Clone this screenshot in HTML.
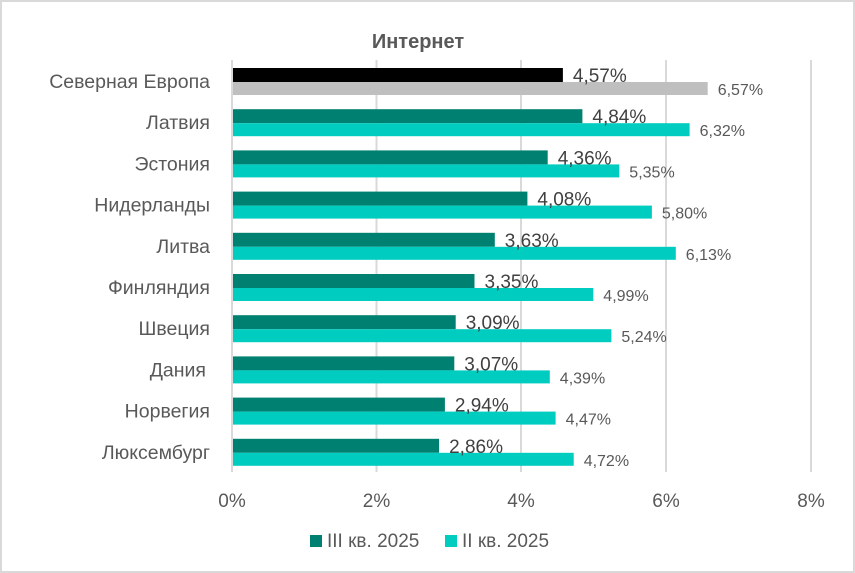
<!DOCTYPE html>
<html><head><meta charset="utf-8"><style>
html,body{margin:0;padding:0;background:#fff}
svg{display:block}
text{font-family:"Liberation Sans","DejaVu Sans",sans-serif}
</style></head><body>
<svg width="855" height="573" viewBox="0 0 855 573" xmlns="http://www.w3.org/2000/svg">
<rect x="1" y="1" width="853" height="571" fill="#fff" stroke="#d9d9d9" stroke-width="2"/>
<text x="418" y="48" text-anchor="middle" font-size="20" font-weight="bold" fill="#595959">Интернет</text>
<g stroke="#d9d9d9" stroke-width="2">
<line x1="232" y1="60" x2="232" y2="472"/>
<line x1="376.5" y1="60" x2="376.5" y2="472"/>
<line x1="521" y1="60" x2="521" y2="472"/>
<line x1="666" y1="60" x2="666" y2="472"/>
<line x1="811" y1="60" x2="811" y2="472"/>
</g>
<g font-size="19" fill="#595959" text-anchor="middle">
<text x="232" y="507">0%</text><text x="376.5" y="507">2%</text><text x="521" y="507">4%</text><text x="666" y="507">6%</text><text x="811" y="507">8%</text>
</g>
<g font-size="19.5" fill="#595959" text-anchor="end">
<text x="210" y="88">Северная Европа</text>
<text x="210" y="129.2">Латвия</text>
<text x="210" y="170.4">Эстония</text>
<text x="210" y="211.6">Нидерланды</text>
<text x="210" y="252.8">Литва</text>
<text x="210" y="294">Финляндия</text>
<text x="210" y="335.2">Швеция</text>
<text x="206" y="376.4">Дания</text>
<text x="210" y="417.6">Норвегия</text>
<text x="210" y="458.8">Люксембург</text>
</g>
<rect x="233" y="68" width="329.9" height="14" fill="#000"/>
<rect x="233" y="82" width="474.7" height="13" fill="#BFBFBF"/>
<rect x="233" y="109.2" width="349.4" height="14" fill="#008070"/>
<rect x="233" y="123.2" width="456.6" height="13" fill="#00CCC0"/>
<rect x="233" y="150.4" width="314.7" height="14" fill="#008070"/>
<rect x="233" y="164.4" width="386.3" height="13" fill="#00CCC0"/>
<rect x="233" y="191.6" width="294.4" height="14" fill="#008070"/>
<rect x="233" y="205.6" width="418.9" height="13" fill="#00CCC0"/>
<rect x="233" y="232.8" width="261.8" height="14" fill="#008070"/>
<rect x="233" y="246.8" width="442.8" height="13" fill="#00CCC0"/>
<rect x="233" y="274" width="241.5" height="14" fill="#008070"/>
<rect x="233" y="288" width="360.3" height="13" fill="#00CCC0"/>
<rect x="233" y="315.2" width="222.7" height="14" fill="#008070"/>
<rect x="233" y="329.2" width="378.4" height="13" fill="#00CCC0"/>
<rect x="233" y="356.4" width="221.3" height="14" fill="#008070"/>
<rect x="233" y="370.4" width="316.8" height="13" fill="#00CCC0"/>
<rect x="233" y="397.6" width="211.9" height="14" fill="#008070"/>
<rect x="233" y="411.6" width="322.6" height="13" fill="#00CCC0"/>
<rect x="233" y="438.8" width="206.1" height="14" fill="#008070"/>
<rect x="233" y="452.8" width="340.7" height="13" fill="#00CCC0"/>
<g font-size="19" fill="#404040">
<text x="572.9" y="82">4,57%</text>
<text x="592.4" y="123.2">4,84%</text>
<text x="557.7" y="164.4">4,36%</text>
<text x="537.4" y="205.6">4,08%</text>
<text x="504.8" y="246.8">3,63%</text>
<text x="484.5" y="288">3,35%</text>
<text x="465.7" y="329.2">3,09%</text>
<text x="464.3" y="370.4">3,07%</text>
<text x="454.9" y="411.6">2,94%</text>
<text x="449.1" y="452.8">2,86%</text>
</g>
<g font-size="16" fill="#595959">
<text x="717.7" y="95">6,57%</text>
<text x="699.6" y="136.2">6,32%</text>
<text x="629.3" y="177.4">5,35%</text>
<text x="661.9" y="218.6">5,80%</text>
<text x="685.8" y="259.8">6,13%</text>
<text x="603.3" y="301">4,99%</text>
<text x="621.4" y="342.2">5,24%</text>
<text x="559.8" y="383.4">4,39%</text>
<text x="565.6" y="424.6">4,47%</text>
<text x="583.7" y="465.8">4,72%</text>
</g>
<rect x="310" y="535" width="12" height="12" fill="#008070"/>
<text x="327" y="547" font-size="19" fill="#595959">III кв. 2025</text>
<rect x="445" y="535" width="12" height="12" fill="#00CCC0"/>
<text x="462" y="547" font-size="19" fill="#595959">II кв. 2025</text>
</svg>
</body></html>
